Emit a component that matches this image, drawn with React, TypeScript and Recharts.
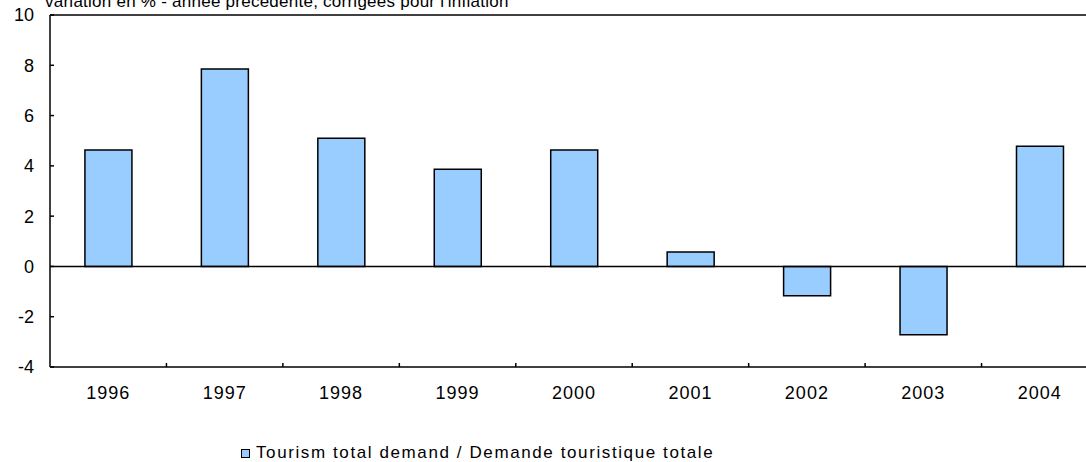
import React from 'react';
import {
  BarChart,
  Bar,
  XAxis,
  YAxis,
  ReferenceLine,
} from 'recharts';

const years = ['1996', '1997', '1998', '1999', '2000', '2001', '2002', '2003', '2004'];
const demandGrowth = [4.63, 7.85, 5.1, 3.87, 4.63, 0.57, -1.17, -2.72, 4.78];
const yTicks = [-4, -2, 0, 2, 4, 6, 8, 10];

const seriesName = 'Tourism total demand / Demande touristique totale';
const subtitle = "variation en % - année précédente, corrigées pour l'inflation";

const data = years.map((year, i) => ({ year, value: demandGrowth[i] }));

const CHART_W = 1100;
const CHART_H = 462;
const Y_AXIS_W = 50;
const MARGIN = { top: 15, right: 2, left: 0, bottom: 65 };
const BAND = (CHART_W - Y_AXIS_W - MARGIN.left - MARGIN.right) / years.length;
const TICK_MARGIN = 19;
const FONT = '"Liberation Sans", Arial, sans-serif';

// category label in the middle, small inward tick on the right edge of each band
const YearTick = ({ x, y, payload, index }: any) => {
  const axisY = y - TICK_MARGIN;
  return (
    <g>
      {index < years.length - 1 && (
        <line x1={x + BAND / 2} x2={x + BAND / 2} y1={axisY} y2={axisY - 4} stroke="#000" strokeWidth={1.5} />
      )}
      <text
        x={x}
        y={y}
        dy="0.71em"
        textAnchor="middle"
        fill="#000"
        style={{ fontFamily: FONT, fontSize: 18, letterSpacing: 1 }}
      >
        {payload.value}
      </text>
    </g>
  );
};

const App: React.FC = () => {
  return (
    <div
      style={{
        position: 'fixed',
        left: 0,
        top: 0,
        width: 1086,
        height: 462,
        overflow: 'hidden',
        background: '#fff',
        fontFamily: FONT,
      }}
    >
      <div
        style={{
          position: 'absolute',
          left: 45,
          top: -8,
          fontSize: 17,
          letterSpacing: 0.25,
          whiteSpace: 'nowrap',
          color: '#000',
        }}
      >
        {subtitle}
      </div>
      <BarChart width={CHART_W} height={CHART_H} data={data} margin={MARGIN} barCategoryGap="30%">
        <XAxis
          dataKey="year"
          height={30}
          axisLine={{ stroke: '#000', strokeWidth: 1.5 }}
          tickLine={false}
          tickSize={0}
          tickMargin={TICK_MARGIN}
          tick={<YearTick />}
          interval={0}
        />
        <YAxis
          width={Y_AXIS_W}
          domain={[-4, 10]}
          ticks={yTicks}
          interval={0}
          axisLine={{ stroke: '#000', strokeWidth: 1.5 }}
          tickLine={{ stroke: '#000', strokeWidth: 1.5 }}
          tickSize={-4}
          tickMargin={20}
          tick={{ fill: '#000', fontSize: 18, fontFamily: FONT }}
        />
        <ReferenceLine y={10} stroke="#000" strokeWidth={1.5} />
        <Bar dataKey="value" fill="#99CCFF" stroke="#000" strokeWidth={1.5} isAnimationActive={false} />
        <ReferenceLine y={0} stroke="#000" strokeWidth={1.5} />
      </BarChart>
      <div
        style={{
          position: 'absolute',
          left: 241,
          top: 443,
          display: 'flex',
          alignItems: 'center',
          whiteSpace: 'nowrap',
          fontSize: 17,
          letterSpacing: 1.6,
          color: '#000',
        }}
      >
        <span
          style={{
            display: 'inline-block',
            width: 7,
            height: 7,
            background: '#99CCFF',
            border: '1px solid #000',
            marginRight: 6,
          }}
        />
        <span>{seriesName}</span>
      </div>
    </div>
  );
};

export default App;
